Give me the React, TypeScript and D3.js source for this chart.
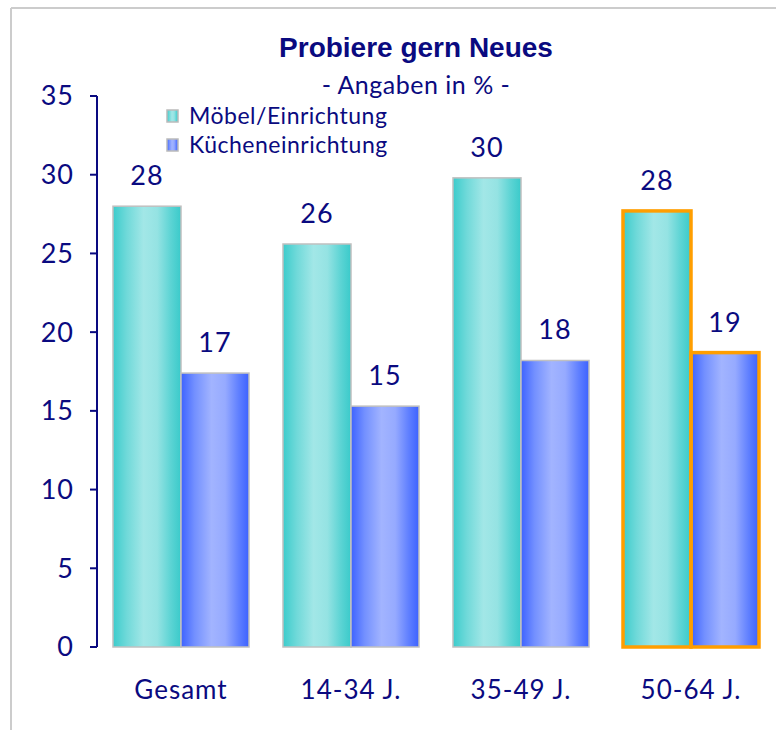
import React from "react";
import * as d3 from "d3";

const categories = ["Gesamt", "14-34 J.", "35-49 J.", "50-64 J."];
const seriesNames = ["Möbel/Einrichtung", "Kücheneinrichtung"];
const moebel = [28.0, 25.6, 29.8, 27.7];
const kueche = [17.4, 15.3, 18.2, 18.7];
const yTicks = [0, 5, 10, 15, 20, 25, 30, 35];
const highlighted = "50-64 J.";

const W = 776;
const H = 730;
const NAVY = "#0a0a80";
const FONT = "Lato, 'DejaVu Sans', sans-serif";

export default function App() {
  const y = d3.scaleLinear().domain([0, 35]).range([647, 96]);
  const x0 = d3.scaleBand<string>().domain(categories).range([96, 776]).paddingInner(0.2).paddingOuter(0.1);
  const x1 = d3.scaleBand<string>().domain(seriesNames).range([0, x0.bandwidth()]);
  const series = [moebel, kueche];
  const fills = ["url(#gCyan)", "url(#gBlue)"];
  const fmt = d3.format(".0f");

  return (
    <svg width={W} height={H} style={{ position: "absolute", left: 0, top: 0, fontFamily: FONT }}>
      <defs>
        <linearGradient id="gCyan" x1="0" x2="1" y1="0" y2="0">
          <stop offset="0%" stopColor="#3ccccc" />
          <stop offset="20%" stopColor="#6fd9d9" />
          <stop offset="45%" stopColor="#a2e7e7" />
          <stop offset="65%" stopColor="#95e3e3" />
          <stop offset="85%" stopColor="#5cd4d4" />
          <stop offset="100%" stopColor="#3acaca" />
        </linearGradient>
        <linearGradient id="gBlue" x1="0" x2="1" y1="0" y2="0">
          <stop offset="0%" stopColor="#3d62ff" />
          <stop offset="20%" stopColor="#7390ff" />
          <stop offset="45%" stopColor="#a2b4ff" />
          <stop offset="65%" stopColor="#96aaff" />
          <stop offset="85%" stopColor="#5f7fff" />
          <stop offset="100%" stopColor="#3d62ff" />
        </linearGradient>
      </defs>
      <rect x={0} y={0} width={W} height={H} fill="#ffffff" />
      {/* frame */}
      <line x1={11} y1={8} x2={W} y2={8} stroke="#cccccc" strokeWidth={2} />
      <line x1={11} y1={8} x2={11} y2={H} stroke="#cccccc" strokeWidth={2} />

      {/* title */}
      <text x={416} y={57} textAnchor="middle" fontSize={28} fontWeight="bold" fill={NAVY}
        fontFamily="'Liberation Sans', Arial, sans-serif">Probiere gern Neues</text>
      <text x={416} y={94} textAnchor="middle" fontSize={25} letterSpacing={0.5} fill={NAVY}>- Angaben in % -</text>

      {/* y axis */}
      <line x1={97} y1={y(35)} x2={97} y2={y(0)} stroke={NAVY} strokeWidth={2} />
      {yTicks.map((t) => (
        <g key={t}>
          <line x1={90} x2={97} y1={y(t)} y2={y(t)} stroke={NAVY} strokeWidth={2} />
          <text x={74} y={y(t)} dy="0.35em" textAnchor="end" fontSize={27} letterSpacing={1} fill={NAVY}>{t}</text>
        </g>
      ))}

      {/* bars */}
      {categories.map((c, ci) => {
        const gx = x0(c)!;
        return (
          <g key={c}>
            {series.map((s, si) => {
              const bx = gx + x1(seriesNames[si])!;
              const bw = x1.bandwidth();
              const v = s[ci];
              return (
                <g key={si}>
                  <rect x={bx} y={y(v)} width={bw} height={y(0) - y(v)} fill={fills[si]}
                    stroke="#c0c0c0" strokeWidth={1.5} />
                  <text x={bx + bw / 2} y={y(v) - 21} textAnchor="middle" fontSize={27} letterSpacing={1} fill={NAVY}>{fmt(v)}</text>
                </g>
              );
            })}
            {c === highlighted &&
              series.map((s, si) => {
                const bx = gx + x1(seriesNames[si])!;
                const v = s[ci];
                return (
                  <rect key={"h" + si} x={bx} y={y(v)} width={x1.bandwidth()} height={y(0) - y(v)}
                    fill="none" stroke="#ff9e00" strokeWidth={3.5} />
                );
              })}
            <text x={gx + x0.bandwidth() / 2} y={699} textAnchor="middle" fontSize={26} letterSpacing={1} fill={NAVY}>{c}</text>
          </g>
        );
      })}

      {/* legend */}
      {seriesNames.map((n, i) => (
        <g key={n} transform={`translate(167, ${110 + i * 29})`}>
          <rect x={0} y={0} width={11} height={12} fill={fills[i]} stroke="#bbbbbb" strokeWidth={1.5} />
          <text x={22} y={6} dy="0.35em" fontSize={23} letterSpacing={0.5} fill={NAVY}>{n}</text>
        </g>
      ))}
    </svg>
  );
}
